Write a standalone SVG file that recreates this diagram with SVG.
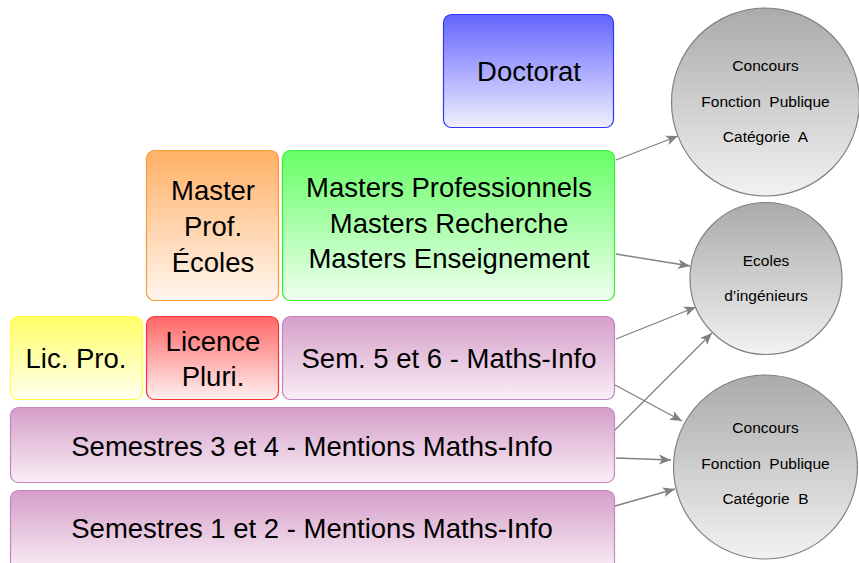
<svg xmlns="http://www.w3.org/2000/svg" width="859" height="563" viewBox="0 0 859 563">
<defs>
<linearGradient id="gBlue" x1="0" y1="0" x2="0" y2="1"><stop offset="0" stop-color="#6464ff"/><stop offset="1" stop-color="#f0f0ff"/></linearGradient>
<linearGradient id="gOrange" x1="0" y1="0" x2="0" y2="1"><stop offset="0" stop-color="#ffb066"/><stop offset="1" stop-color="#fff6f0"/></linearGradient>
<linearGradient id="gGreen" x1="0" y1="0" x2="0" y2="1"><stop offset="0" stop-color="#66ff66"/><stop offset="1" stop-color="#f0fff0"/></linearGradient>
<linearGradient id="gYellow" x1="0" y1="0" x2="0" y2="1"><stop offset="0" stop-color="#ffff66"/><stop offset="1" stop-color="#fffff0"/></linearGradient>
<linearGradient id="gRed" x1="0" y1="0" x2="0" y2="1"><stop offset="0" stop-color="#ff6666"/><stop offset="1" stop-color="#fff0f0"/></linearGradient>
<linearGradient id="gPurple" x1="0" y1="0" x2="0" y2="1"><stop offset="0" stop-color="#d59ec8"/><stop offset="1" stop-color="#f9eef6"/></linearGradient>
<linearGradient id="gGray" x1="0" y1="0" x2="0" y2="1"><stop offset="0" stop-color="#aaaaaa"/><stop offset="1" stop-color="#f2f2f2"/></linearGradient>
<marker id="arr" markerUnits="userSpaceOnUse" markerWidth="14" markerHeight="12" viewBox="0 0 14 12" refX="12" refY="6" orient="auto">
<path d="M0,1 L12,6 L0,11 L3,6 z" fill="#808080"/>
</marker>
</defs>
<style>
.box{stroke-width:1.2}
.t{font-family:"Liberation Sans","DejaVu Sans",sans-serif;font-size:27.5px;fill:#000;text-anchor:middle}
.s{font-family:"Liberation Sans","DejaVu Sans",sans-serif;font-size:15.5px;fill:#000;text-anchor:middle}
.c{stroke:#808080;stroke-width:1.2}
.conn{stroke:#808080;stroke-width:1.3;fill:none;marker-end:url(#arr)}
</style>
<g id="doctorat"><rect class="box" x="443.5" y="14.5" width="170" height="113" rx="8" fill="url(#gBlue)" stroke="#3333ff"/><text class="t" x="529" y="81">Doctorat</text></g>
<g id="master-prof"><rect class="box" x="146.5" y="150.5" width="132" height="150" rx="8" fill="url(#gOrange)" stroke="#ff9933"/><text class="t" x="213" y="200">Master</text><text class="t" x="213" y="236">Prof.</text><text class="t" x="213" y="272">Écoles</text></g>
<g id="masters"><rect class="box" x="282.5" y="150.5" width="332" height="150" rx="8" fill="url(#gGreen)" stroke="#33ee33"/><text class="t" x="449" y="197">Masters Professionnels</text><text class="t" x="449" y="233">Masters Recherche</text><text class="t" x="449" y="268">Masters Enseignement</text></g>
<g id="lic-pro"><rect class="box" x="10.5" y="316.5" width="132" height="83" rx="8" fill="url(#gYellow)" stroke="#ffff44"/><text class="t" x="76" y="368">Lic. Pro.</text></g>
<g id="licence-pluri"><rect class="box" x="146.5" y="316.5" width="132" height="83" rx="8" fill="url(#gRed)" stroke="#ff3333"/><text class="t" x="213" y="351">Licence</text><text class="t" x="213" y="386">Pluri.</text></g>
<g id="sem56"><rect class="box" x="282.5" y="316.5" width="332" height="83" rx="8" fill="url(#gPurple)" stroke="#c486c0"/><text class="t" x="449" y="368">Sem. 5 et 6 - Maths-Info</text></g>
<g id="sem34"><rect class="box" x="10.5" y="407.5" width="604" height="75" rx="8" fill="url(#gPurple)" stroke="#c486c0"/><text class="t" x="312" y="456">Semestres 3 et 4 - Mentions Maths-Info</text></g>
<g id="sem12"><rect class="box" x="10.5" y="490.5" width="604" height="80" rx="8" fill="url(#gPurple)" stroke="#c486c0"/><text class="t" x="312" y="538">Semestres 1 et 2 - Mentions Maths-Info</text></g>
<g id="concours-a"><circle class="c" cx="765.5" cy="102" r="94" fill="url(#gGray)"/><text class="s" x="765.5" y="71">Concours</text><text class="s" x="765.5" y="107" xml:space="preserve">Fonction  Publique</text><text class="s" x="765.5" y="142" xml:space="preserve">Catégorie  A</text></g>
<g id="ecoles"><circle class="c" cx="766" cy="278.5" r="76" fill="url(#gGray)"/><text class="s" x="766" y="266">Ecoles</text><text class="s" x="766" y="301">d’ingénieurs</text></g>
<g id="concours-b"><circle class="c" cx="765.5" cy="467" r="92" fill="url(#gGray)"/><text class="s" x="765.5" y="433">Concours</text><text class="s" x="765.5" y="469" xml:space="preserve">Fonction  Publique</text><text class="s" x="765.5" y="504" xml:space="preserve">Catégorie  B</text></g>
<g id="connectors">
<line class="conn" x1="616" y1="160" x2="678" y2="136"/>
<line class="conn" x1="616" y1="254" x2="690" y2="266"/>
<line class="conn" x1="616" y1="339" x2="696" y2="307"/>
<line class="conn" x1="615" y1="430" x2="712" y2="333"/>
<line class="conn" x1="615" y1="385" x2="682" y2="421"/>
<line class="conn" x1="616" y1="458" x2="671" y2="460"/>
<line class="conn" x1="615" y1="506" x2="675" y2="489"/>
</g>
</svg>
